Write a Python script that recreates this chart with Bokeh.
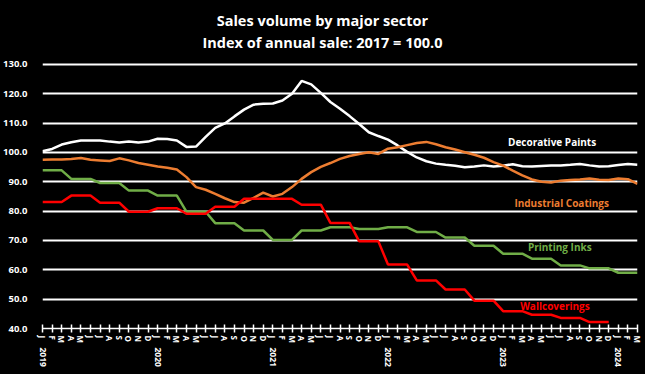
from bokeh.plotting import figure
from bokeh.models import FixedTicker, NumeralTickFormatter, LinearAxis, Label, Range1d
from bokeh.embed import file_html
from bokeh.resources import INLINE

# ---- data ----
title_lines = ["Sales volume by major sector", "Index of annual sale: 2017 = 100.0"]
month_letters = ["J", "F", "M", "A", "M", "J", "J", "A", "S", "O", "N", "D"]
year_labels = ["2019", "2020", "2021", "2022", "2023", "2024"]
y_ticks = [40, 50, 60, 70, 80, 90, 100, 110, 120, 130]

decorative_paints = [100.4, 101.2, 102.7, 103.5, 104.1, 104.1, 104.1, 103.7, 103.4, 103.7,
                     103.4, 103.7, 104.7, 104.6, 104.1, 101.9, 102.0, 105.3, 108.4, 109.9,
                     112.3, 114.6, 116.3, 116.6, 116.7, 117.7, 120.0, 124.4, 123.2, 120.3,
                     117.2, 114.9, 112.4, 109.7, 106.9, 105.6, 104.4, 102.4, 100.2, 98.3,
                     97.0, 96.2, 95.8, 95.5, 95.0, 95.2, 95.6, 95.2, 95.5, 96.0,
                     95.3, 95.2, 95.4, 95.6, 95.6, 95.8, 96.1, 95.6, 95.2, 95.3,
                     95.7, 96.1, 95.8]

industrial_coatings = [97.5, 97.6, 97.6, 97.8, 98.1, 97.5, 97.3, 97.1, 98.0, 97.3,
                       96.4, 95.8, 95.2, 94.8, 94.2, 91.6, 88.2, 87.3, 85.9, 84.4,
                       83.1, 82.9, 84.5, 86.3, 85.0, 85.9, 88.2, 91.0, 93.3, 95.1,
                       96.4, 97.8, 98.8, 99.5, 100.1, 99.5, 101.3, 101.8, 102.5, 103.2,
                       103.6, 102.8, 101.8, 101.0, 100.1, 99.2, 98.2, 96.7, 95.5, 93.8,
                       92.2, 90.8, 90.0, 89.8, 90.4, 90.6, 90.8, 91.1, 90.7, 90.6,
                       91.1, 90.9, 89.3]

printing_inks = [93.9, 93.9, 93.9, 91.0, 91.0, 91.0, 89.6, 89.6, 89.6, 87.0,
                 87.0, 87.0, 85.3, 85.3, 85.3, 79.8, 79.8, 79.8, 75.9, 75.9,
                 75.9, 73.4, 73.4, 73.4, 70.2, 70.2, 70.2, 73.4, 73.4, 73.4,
                 74.5, 74.5, 74.5, 73.9, 73.9, 73.9, 74.5, 74.5, 74.5, 72.9,
                 72.9, 72.9, 71.0, 71.0, 71.0, 68.2, 68.2, 68.2, 65.5, 65.5,
                 65.5, 63.8, 63.8, 63.8, 61.5, 61.5, 61.5, 60.5, 60.5, 60.5,
                 59.0, 59.0, 59.0]

wallcoverings = [83.1, 83.1, 83.1, 85.3, 85.3, 85.3, 82.9, 82.9, 82.9, 79.8,
                 79.8, 79.8, 81.0, 81.0, 81.0, 79.1, 79.1, 79.1, 81.5, 81.5,
                 81.5, 84.2, 84.2, 84.2, 84.2, 84.2, 84.2, 82.2, 82.2, 82.2,
                 76.0, 76.0, 76.0, 69.7, 69.7, 69.7, 61.8, 61.8, 61.8, 56.4,
                 56.4, 56.4, 53.3, 53.3, 53.3, 49.5, 49.5, 49.5, 45.9, 45.9,
                 45.9, 44.7, 44.7, 44.7, 43.6, 43.6, 43.6, 42.2, 42.2, 42.2]

n_months = len(decorative_paints)
FONT = "Open Sans"

# frame spans the full height above the axis so the title area sits inside it
p = figure(width=645, height=374,
           x_range=Range1d(0, n_months - 1), y_range=Range1d(40, 151.8),
           output_backend="svg", toolbar_location=None,
           min_border_left=42, min_border_right=8, min_border_top=0, min_border_bottom=46,
           background_fill_color="black", border_fill_color="black",
           outline_line_color=None)

# titles
for txt, y in zip(title_lines, [145.0, 137.5]):
    p.add_layout(Label(x=29.17, y=y, text=txt, text_align="center", text_baseline="middle",
                       text_font=FONT, text_font_style="bold", text_font_size="14.5px",
                       text_color="white"))

# grid
p.xgrid.grid_line_color = None
p.ygrid.ticker = FixedTicker(ticks=y_ticks)
p.ygrid.grid_line_color = "white"
p.ygrid.grid_line_width = 2

# y axis
p.yaxis.ticker = FixedTicker(ticks=y_ticks)
p.yaxis.formatter = NumeralTickFormatter(format="0.0")
p.yaxis.axis_line_color = None
p.yaxis.major_tick_line_color = None
p.yaxis.minor_tick_line_color = None
p.yaxis.major_label_text_color = "white"
p.yaxis.major_label_text_font = FONT
p.yaxis.major_label_text_font_style = "bold"
p.yaxis.major_label_text_font_size = "9.5px"
p.yaxis.major_label_standoff = 9

# month axis
month_ticks = list(range(n_months))
p.xaxis.ticker = FixedTicker(ticks=month_ticks)
p.xaxis.major_label_overrides = {i: month_letters[i % 12] for i in month_ticks}
p.xaxis.major_label_orientation = "vertical"
p.xaxis.axis_line_color = "white"
p.xaxis.axis_line_width = 1.5
p.xaxis.major_tick_line_color = "white"
p.xaxis.major_tick_line_width = 1.5
p.xaxis.major_tick_in = 4
p.xaxis.major_tick_out = 4
p.xaxis.minor_tick_line_color = None
p.xaxis.major_label_text_color = "white"
p.xaxis.major_label_text_font = FONT
p.xaxis.major_label_text_font_style = "bold"
p.xaxis.major_label_text_font_size = "8px"
p.xaxis.major_label_standoff = 3

# year axis
year_ticks = [12 * k for k in range(len(year_labels))]
year_axis = LinearAxis(ticker=FixedTicker(ticks=year_ticks),
                       major_label_overrides={t: y for t, y in zip(year_ticks, year_labels)},
                       major_label_orientation="vertical",
                       axis_line_color=None, major_tick_line_color=None,
                       minor_tick_line_color=None, major_tick_in=0, major_tick_out=0,
                       major_label_text_color="white", major_label_text_font=FONT,
                       major_label_text_font_style="bold", major_label_text_font_size="8.5px",
                       major_label_standoff=1)
p.add_layout(year_axis, "below")

# lines
p.line(list(range(len(decorative_paints))), decorative_paints, line_color="#FFFFFF", line_width=2.5)
p.line(list(range(len(industrial_coatings))), industrial_coatings, line_color="#ED7D31", line_width=2.5)
p.line(list(range(len(printing_inks))), printing_inks, line_color="#70AD47", line_width=2.5)
p.line(list(range(len(wallcoverings))), wallcoverings, line_color="#FF0000", line_width=2.5)

# series labels
for txt, x, y, col in [("Decorative Paints", 53.1, 103.5, "white"),
                       ("Industrial Coatings", 54.1, 82.7, "#ED7D31"),
                       ("Printing Inks", 53.9, 67.7, "#70AD47"),
                       ("Wallcoverings", 53.4, 47.8, "#FF0000")]:
    p.add_layout(Label(x=x, y=y, text=txt, text_align="center", text_baseline="middle",
                       text_font=FONT, text_font_style="bold", text_font_size="10px",
                       text_color=col))

html = file_html(p, INLINE, title="Sales volume by major sector")
html = html.replace("<head>", "<head><style>body{background:#000;}</style>", 1)
open("out.html", "w").write(html)
